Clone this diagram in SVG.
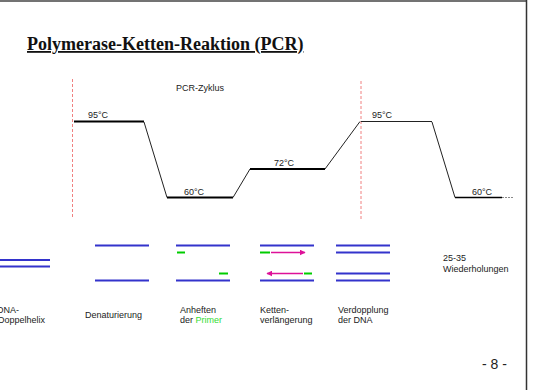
<svg xmlns="http://www.w3.org/2000/svg" width="539" height="390" viewBox="0 0 539 390">
<style>
.t{font-family:"Liberation Sans",Arial,sans-serif;font-size:9px;fill:#222}
.title{font-family:"Liberation Serif","Times New Roman",serif;font-size:18px;font-weight:bold;fill:#111;text-decoration:underline}
.thick{stroke:#000;stroke-width:2;fill:none}
.thin{stroke:#222;stroke-width:1;fill:none}
.red{stroke:#f08080;stroke-width:1;stroke-dasharray:3,2;fill:none}
.dna{stroke:#3333cc;stroke-width:2}
.pr{stroke:#00cc00;stroke-width:2}
.ext{stroke:#dd1199;stroke-width:1.5}
</style>
<defs>
<marker id="ah" viewBox="0 0 10 10" refX="9" refY="5" markerWidth="4" markerHeight="4" orient="auto">
<path d="M0,0 L10,5 L0,10 z" fill="#dd1199"/>
</marker>
</defs>
<rect width="539" height="390" fill="#fff"/>
<line x1="0" y1="1" x2="527" y2="1" stroke="#444" stroke-width="1.5"/>
<line x1="526.5" y1="0" x2="526.5" y2="390" stroke="#333" stroke-width="1.5"/>
<text class="title" x="27" y="50">Polymerase-Ketten-Reaktion (PCR)</text>
<text class="t" x="176" y="91">PCR-Zyklus</text>
<g id="profile">
<line class="red" x1="72.5" y1="79" x2="72.5" y2="219"/>
<line class="red" x1="361" y1="81" x2="361" y2="221"/>
<line class="thick" x1="74" y1="121.5" x2="144" y2="121.5"/>
<line class="thin" x1="144" y1="122" x2="167" y2="197.5"/>
<line class="thick" x1="167" y1="197.5" x2="233" y2="197.5"/>
<line class="thin" x1="233" y1="197.5" x2="250" y2="169"/>
<line class="thick" x1="250" y1="169" x2="325" y2="169"/>
<line class="thin" x1="325" y1="169" x2="360" y2="121.5"/>
<line class="thin" x1="361" y1="121.5" x2="432" y2="121.5"/>
<line class="thin" x1="432" y1="122" x2="455" y2="197.5"/>
<line x1="455" y1="197.5" x2="502" y2="197.5" stroke="#000" stroke-width="1.5"/>
<line x1="502" y1="197.5" x2="514" y2="197.5" stroke="#888" stroke-width="1" stroke-dasharray="2,1"/>
<text class="t" x="88" y="118">95°C</text>
<text class="t" x="184" y="195">60°C</text>
<text class="t" x="274" y="166">72°C</text>
<text class="t" x="372" y="118">95°C</text>
<text class="t" x="472" y="195">60°C</text>
</g>
<g id="helix">
<line class="dna" x1="0" y1="260" x2="50" y2="260"/>
<line class="dna" x1="0" y1="266.5" x2="50" y2="266.5"/>
<text class="t" x="-3" y="313">DNA-</text>
<text class="t" x="-2" y="323">Doppelhelix</text>
</g>
<g id="denat">
<line class="dna" x1="95" y1="245.5" x2="149" y2="245.5"/>
<line class="dna" x1="95" y1="280.5" x2="149" y2="280.5"/>
<text class="t" x="85" y="318">Denaturierung</text>
</g>
<g id="anneal">
<line class="dna" x1="176" y1="245.5" x2="230" y2="245.5"/>
<line class="dna" x1="176" y1="280.5" x2="230" y2="280.5"/>
<line class="pr" x1="177" y1="252.5" x2="185" y2="252.5"/>
<line class="pr" x1="219" y1="273.5" x2="228" y2="273.5"/>
<text class="t" x="180" y="313">Anheften</text>
<text class="t" x="180" y="323">der <tspan fill="#33dd33">Primer</tspan></text>
</g>
<g id="extend">
<line class="dna" x1="260" y1="245.5" x2="314" y2="245.5"/>
<line class="dna" x1="260" y1="280.5" x2="314" y2="280.5"/>
<line class="pr" x1="260" y1="252.5" x2="270" y2="252.5"/>
<line class="pr" x1="304" y1="273.5" x2="312" y2="273.5"/>
<line class="ext" x1="271" y1="252.5" x2="305" y2="252.5" marker-end="url(#ah)"/>
<line class="ext" x1="303" y1="273.5" x2="267" y2="273.5" marker-end="url(#ah)"/>
<text class="t" x="260" y="313">Ketten-</text>
<text class="t" x="260" y="323">verlängerung</text>
</g>
<g id="dup">
<line class="dna" x1="336" y1="245.5" x2="390" y2="245.5"/>
<line class="dna" x1="336" y1="252.5" x2="390" y2="252.5"/>
<line class="dna" x1="336" y1="273.5" x2="390" y2="273.5"/>
<line class="dna" x1="336" y1="280.5" x2="390" y2="280.5"/>
<text class="t" x="338" y="313">Verdopplung</text>
<text class="t" x="338" y="323">der DNA</text>
</g>
<g id="repeat">
<text class="t" x="443" y="261">25-35</text>
<text class="t" x="443" y="271.5">Wiederholungen</text>
</g>
<text x="482" y="369" style="font-family:'Liberation Sans',Arial,sans-serif;font-size:14px;fill:#222">- 8 -</text>
</svg>
